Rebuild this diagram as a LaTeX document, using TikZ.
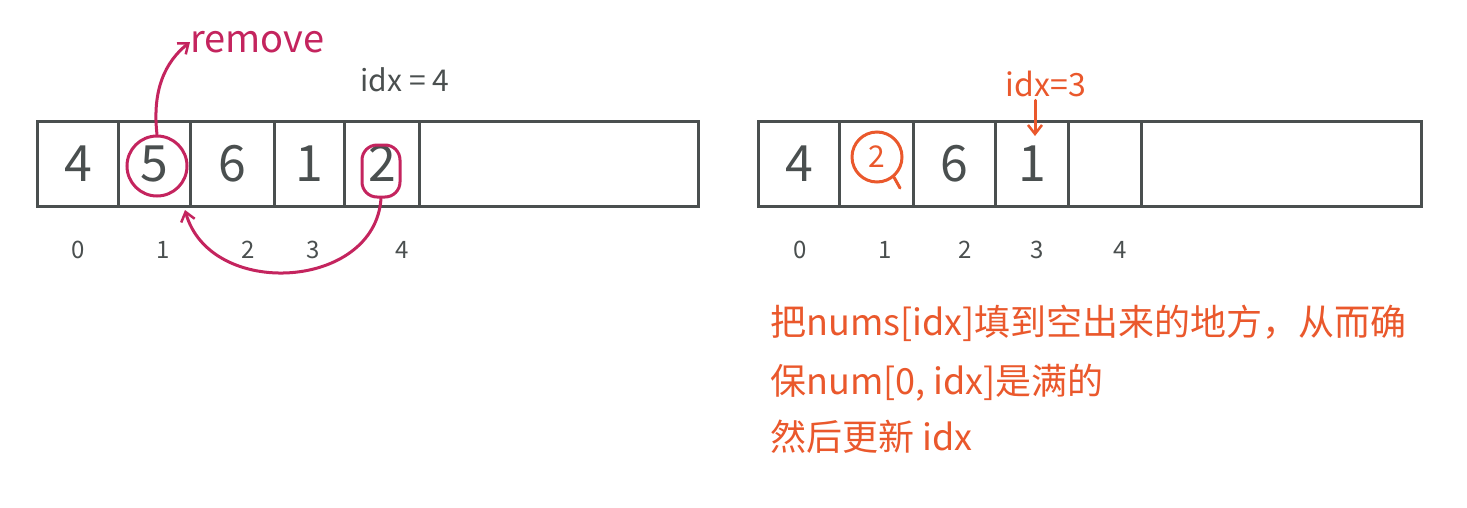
\documentclass[tikz,border=0pt]{standalone}
\usepackage{fontspec}
\setmainfont{Noto Sans CJK SC}
\usetikzlibrary{arrows.meta}
\definecolor{ink}{RGB}{74,79,79}
\definecolor{pinkred}{RGB}{196,36,94}
\definecolor{orng}{RGB}{234,88,44}
\tikzset{
  cell/.style={draw=ink, line width=3pt, minimum height=85pt, inner sep=0pt, anchor=west,
    text=ink, font=\fontsize{50}{50}\selectfont},
  idxlab/.style={text=ink, font=\fontsize{24}{24}\selectfont},
  hl/.style={line width=3pt},
  tip/.style={-{Straight Barb[length=9pt,width=14pt,line width=2.5pt]}},
  note/.style={text=orng, anchor=west, font=\fontsize{36}{36}\selectfont, inner sep=0pt},
}
\begin{document}
\begin{tikzpicture}[x=1pt,y=-1pt]
\useasboundingbox[fill=white] (0,0) rectangle (1467,507);
% left array
\node[cell, minimum width=81pt] (L0) at (36,163.5) {4};
\node[cell, minimum width=72pt] (L1) at (117,163.5) {5};
\node[cell, minimum width=84pt] (L2) at (189,163.5) {6};
\node[cell, minimum width=70pt] (L3) at (273,163.5) {1};
\node[cell, minimum width=75pt] (L4) at (343,163.5) {2};
\node[cell, minimum width=279pt] (L5) at (418,163.5) {};
\foreach \x/\t in {78/0,163/1,248/2,313/3,402/4} \node[idxlab] (li\t) at (\x,250) {\t};
\node[text=ink, font=\fontsize{30}{30}\selectfont] (idxa) at (405,80) {idx = 4};
% highlights left
\node[draw=pinkred, hl, circle, minimum size=60pt] (c5) at (157,166) {};
\node[draw=pinkred, hl, rounded corners=15pt, minimum width=38pt, minimum height=52pt] (c2) at (381,171) {};
\node[text=pinkred, font=\fontsize{38}{38}\selectfont, anchor=west, inner sep=0pt] (rm) at (190,42) {remove};
\draw[pinkred, hl, tip, line cap=round] (c5.north) .. controls (152,90) and (165,62) .. (rm.west);
\coordinate (back) at (185,210);
\draw[pinkred, hl, tip, line cap=round] (c2.south) .. controls (375,290) and (210,300) .. (back);
% right array
\node[cell, minimum width=81pt] (R0) at (757,163.5) {4};
\node[cell, minimum width=74pt] (R1) at (838,163.5) {};
\node[cell, minimum width=82pt] (R2) at (912,163.5) {6};
\node[cell, minimum width=73pt] (R3) at (994,163.5) {1};
\node[cell, minimum width=73pt] (R4) at (1067,163.5) {};
\node[cell, minimum width=280pt] (R5) at (1140,163.5) {};
\foreach \x/\t in {800/0,885/1,965/2,1037/3,1120/4} \node[idxlab] (ri\t) at (\x,250) {\t};
\node[draw=orng, hl, circle, minimum size=50pt, text=orng, inner sep=0pt,
  font=\fontsize{30}{30}\selectfont] (o2) at (877,157) {2};
\coordinate (o2t) at (900,188);
\draw[orng, hl, line cap=round] (o2.-50) -- (o2t);
\node[text=orng, font=\fontsize{32}{32}\selectfont] (idxb) at (1046,84) {idx=3};
\coordinate (r3top) at (1035,136);
\draw[orng, hl, tip, line cap=round] (idxb.south -| r3top) -- (r3top);
% note
\node[note] (n1) at (770,323) {把nums[idx]填到空出来的地方，从而确};
\node[note] (n2) at (770,383) {保num[0, idx]是满的};
\node[note] (n3) at (770,437) {然后更新 idx};
\end{tikzpicture}
\end{document}
